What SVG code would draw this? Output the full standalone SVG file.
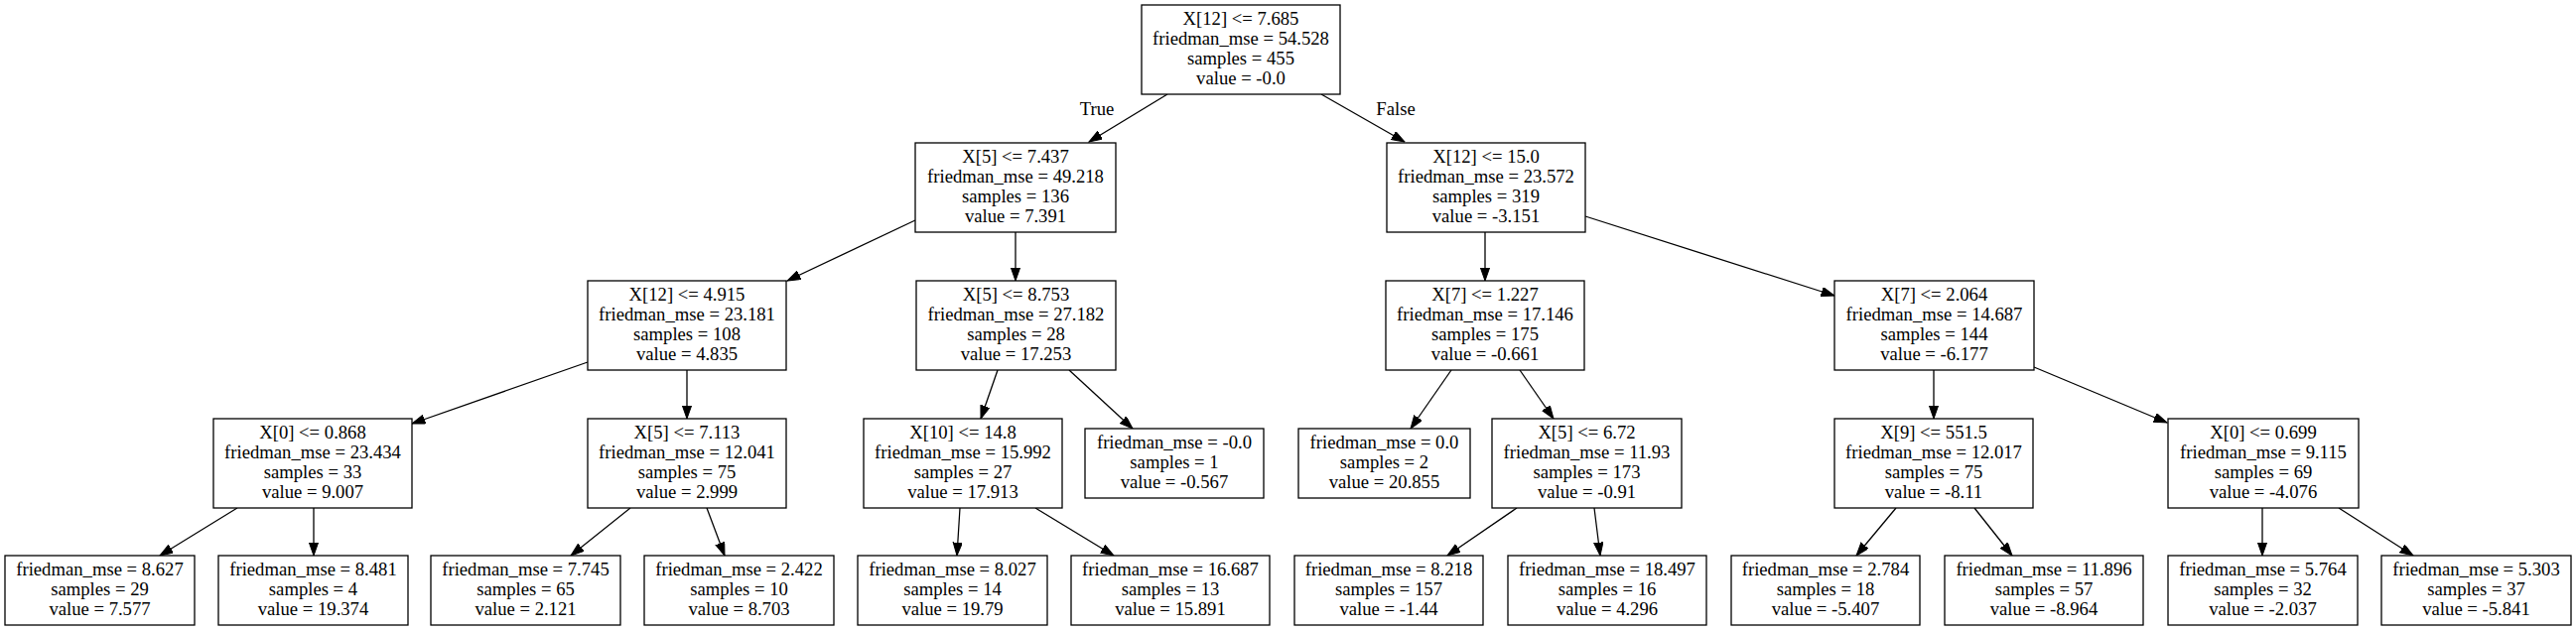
<svg xmlns="http://www.w3.org/2000/svg" width="2595" height="636" viewBox="0 0 2595 636">
<style>
.bg{fill:#fff}
.node rect{fill:#fff;stroke:#000;stroke-width:1.3}
.node text,.lbl{font-family:"Liberation Serif","Times New Roman",serif;font-size:18.67px;fill:#000;text-anchor:middle}
.edges line{stroke:#000;stroke-width:1.3;marker-end:url(#arr)}
</style>
<defs>
<marker id="arr" markerUnits="userSpaceOnUse" markerWidth="14" markerHeight="10" refX="13.3" refY="4.67" orient="auto">
<path d="M0,0 L13.3,4.67 L0,9.34 z" fill="#000" stroke="#000" stroke-width="1"/>
</marker>
</defs>
<rect class="bg" x="0" y="0" width="2595" height="636"/>
<g id="connectors" class="edges">
<line x1="1176" y1="95" x2="1097" y2="143"/>
<line x1="1331" y1="95" x2="1415" y2="143"/>
<line x1="922" y1="222" x2="793" y2="283"/>
<line x1="1023" y1="234" x2="1023" y2="283"/>
<line x1="1496" y1="234" x2="1496" y2="283"/>
<line x1="1597" y1="218" x2="1848" y2="298"/>
<line x1="592" y1="365" x2="415" y2="427"/>
<line x1="692" y1="373" x2="692" y2="422"/>
<line x1="1005" y1="373" x2="988" y2="422"/>
<line x1="1077" y1="373" x2="1141" y2="432"/>
<line x1="1462" y1="373" x2="1421" y2="432"/>
<line x1="1531" y1="373" x2="1565" y2="422"/>
<line x1="1948" y1="373" x2="1948" y2="422"/>
<line x1="2049" y1="370" x2="2183" y2="426"/>
<line x1="239" y1="512" x2="161" y2="560"/>
<line x1="316" y1="512" x2="316" y2="560"/>
<line x1="635" y1="512" x2="575" y2="560"/>
<line x1="712" y1="512" x2="730" y2="560"/>
<line x1="967" y1="512" x2="964" y2="560"/>
<line x1="1043" y1="512" x2="1122" y2="560"/>
<line x1="1528" y1="512" x2="1458" y2="560"/>
<line x1="1606" y1="512" x2="1612" y2="560"/>
<line x1="1910" y1="512" x2="1870" y2="560"/>
<line x1="1989" y1="512" x2="2027" y2="560"/>
<line x1="2279" y1="512" x2="2279" y2="560"/>
<line x1="2356" y1="512" x2="2431" y2="560"/>
<text class="lbl" x="1105" y="116">True</text>
<text class="lbl" x="1406" y="116">False</text>
</g>
<g id="n0" class="node"><rect x="1150" y="5" width="200" height="90"/><text x="1250" y="25">X[12] &lt;= 7.685</text><text x="1250" y="45">friedman_mse = 54.528</text><text x="1250" y="65">samples = 455</text><text x="1250" y="85">value = -0.0</text></g>
<g id="n1" class="node"><rect x="922" y="144" width="202" height="90"/><text x="1023" y="164">X[5] &lt;= 7.437</text><text x="1023" y="184">friedman_mse = 49.218</text><text x="1023" y="204">samples = 136</text><text x="1023" y="224">value = 7.391</text></g>
<g id="n2" class="node"><rect x="1397" y="144" width="200" height="90"/><text x="1497" y="164">X[12] &lt;= 15.0</text><text x="1497" y="184">friedman_mse = 23.572</text><text x="1497" y="204">samples = 319</text><text x="1497" y="224">value = -3.151</text></g>
<g id="n3" class="node"><rect x="592" y="283" width="200" height="90"/><text x="692" y="303">X[12] &lt;= 4.915</text><text x="692" y="323">friedman_mse = 23.181</text><text x="692" y="343">samples = 108</text><text x="692" y="363">value = 4.835</text></g>
<g id="n4" class="node"><rect x="923" y="283" width="201" height="90"/><text x="1023.5" y="303">X[5] &lt;= 8.753</text><text x="1023.5" y="323">friedman_mse = 27.182</text><text x="1023.5" y="343">samples = 28</text><text x="1023.5" y="363">value = 17.253</text></g>
<g id="n5" class="node"><rect x="1396" y="283" width="200" height="90"/><text x="1496" y="303">X[7] &lt;= 1.227</text><text x="1496" y="323">friedman_mse = 17.146</text><text x="1496" y="343">samples = 175</text><text x="1496" y="363">value = -0.661</text></g>
<g id="n6" class="node"><rect x="1848" y="283" width="201" height="90"/><text x="1948.5" y="303">X[7] &lt;= 2.064</text><text x="1948.5" y="323">friedman_mse = 14.687</text><text x="1948.5" y="343">samples = 144</text><text x="1948.5" y="363">value = -6.177</text></g>
<g id="n7" class="node"><rect x="215" y="422" width="200" height="90"/><text x="315" y="442">X[0] &lt;= 0.868</text><text x="315" y="462">friedman_mse = 23.434</text><text x="315" y="482">samples = 33</text><text x="315" y="502">value = 9.007</text></g>
<g id="n8" class="node"><rect x="592" y="422" width="200" height="90"/><text x="692" y="442">X[5] &lt;= 7.113</text><text x="692" y="462">friedman_mse = 12.041</text><text x="692" y="482">samples = 75</text><text x="692" y="502">value = 2.999</text></g>
<g id="n9" class="node"><rect x="870" y="422" width="200" height="90"/><text x="970" y="442">X[10] &lt;= 14.8</text><text x="970" y="462">friedman_mse = 15.992</text><text x="970" y="482">samples = 27</text><text x="970" y="502">value = 17.913</text></g>
<g id="n10" class="node"><rect x="1093" y="432" width="180" height="70"/><text x="1183" y="452">friedman_mse = -0.0</text><text x="1183" y="472">samples = 1</text><text x="1183" y="492">value = -0.567</text></g>
<g id="n11" class="node"><rect x="1308" y="432" width="173" height="70"/><text x="1394.5" y="452">friedman_mse = 0.0</text><text x="1394.5" y="472">samples = 2</text><text x="1394.5" y="492">value = 20.855</text></g>
<g id="n12" class="node"><rect x="1503" y="422" width="191" height="90"/><text x="1598.5" y="442">X[5] &lt;= 6.72</text><text x="1598.5" y="462">friedman_mse = 11.93</text><text x="1598.5" y="482">samples = 173</text><text x="1598.5" y="502">value = -0.91</text></g>
<g id="n13" class="node"><rect x="1848" y="422" width="200" height="90"/><text x="1948" y="442">X[9] &lt;= 551.5</text><text x="1948" y="462">friedman_mse = 12.017</text><text x="1948" y="482">samples = 75</text><text x="1948" y="502">value = -8.11</text></g>
<g id="n14" class="node"><rect x="2184" y="422" width="192" height="90"/><text x="2280" y="442">X[0] &lt;= 0.699</text><text x="2280" y="462">friedman_mse = 9.115</text><text x="2280" y="482">samples = 69</text><text x="2280" y="502">value = -4.076</text></g>
<g id="n15" class="node"><rect x="5" y="560" width="191" height="70"/><text x="100.5" y="580">friedman_mse = 8.627</text><text x="100.5" y="600">samples = 29</text><text x="100.5" y="620">value = 7.577</text></g>
<g id="n16" class="node"><rect x="220" y="560" width="191" height="70"/><text x="315.5" y="580">friedman_mse = 8.481</text><text x="315.5" y="600">samples = 4</text><text x="315.5" y="620">value = 19.374</text></g>
<g id="n17" class="node"><rect x="434" y="560" width="191" height="70"/><text x="529.5" y="580">friedman_mse = 7.745</text><text x="529.5" y="600">samples = 65</text><text x="529.5" y="620">value = 2.121</text></g>
<g id="n18" class="node"><rect x="649" y="560" width="191" height="70"/><text x="744.5" y="580">friedman_mse = 2.422</text><text x="744.5" y="600">samples = 10</text><text x="744.5" y="620">value = 8.703</text></g>
<g id="n19" class="node"><rect x="864" y="560" width="191" height="70"/><text x="959.5" y="580">friedman_mse = 8.027</text><text x="959.5" y="600">samples = 14</text><text x="959.5" y="620">value = 19.79</text></g>
<g id="n20" class="node"><rect x="1079" y="560" width="200" height="70"/><text x="1179" y="580">friedman_mse = 16.687</text><text x="1179" y="600">samples = 13</text><text x="1179" y="620">value = 15.891</text></g>
<g id="n21" class="node"><rect x="1304" y="560" width="190" height="70"/><text x="1399" y="580">friedman_mse = 8.218</text><text x="1399" y="600">samples = 157</text><text x="1399" y="620">value = -1.44</text></g>
<g id="n22" class="node"><rect x="1519" y="560" width="200" height="70"/><text x="1619" y="580">friedman_mse = 18.497</text><text x="1619" y="600">samples = 16</text><text x="1619" y="620">value = 4.296</text></g>
<g id="n23" class="node"><rect x="1744" y="560" width="190" height="70"/><text x="1839" y="580">friedman_mse = 2.784</text><text x="1839" y="600">samples = 18</text><text x="1839" y="620">value = -5.407</text></g>
<g id="n24" class="node"><rect x="1959" y="560" width="200" height="70"/><text x="2059" y="580">friedman_mse = 11.896</text><text x="2059" y="600">samples = 57</text><text x="2059" y="620">value = -8.964</text></g>
<g id="n25" class="node"><rect x="2184" y="560" width="191" height="70"/><text x="2279.5" y="580">friedman_mse = 5.764</text><text x="2279.5" y="600">samples = 32</text><text x="2279.5" y="620">value = -2.037</text></g>
<g id="n26" class="node"><rect x="2399" y="560" width="191" height="70"/><text x="2494.5" y="580">friedman_mse = 5.303</text><text x="2494.5" y="600">samples = 37</text><text x="2494.5" y="620">value = -5.841</text></g>
</svg>
